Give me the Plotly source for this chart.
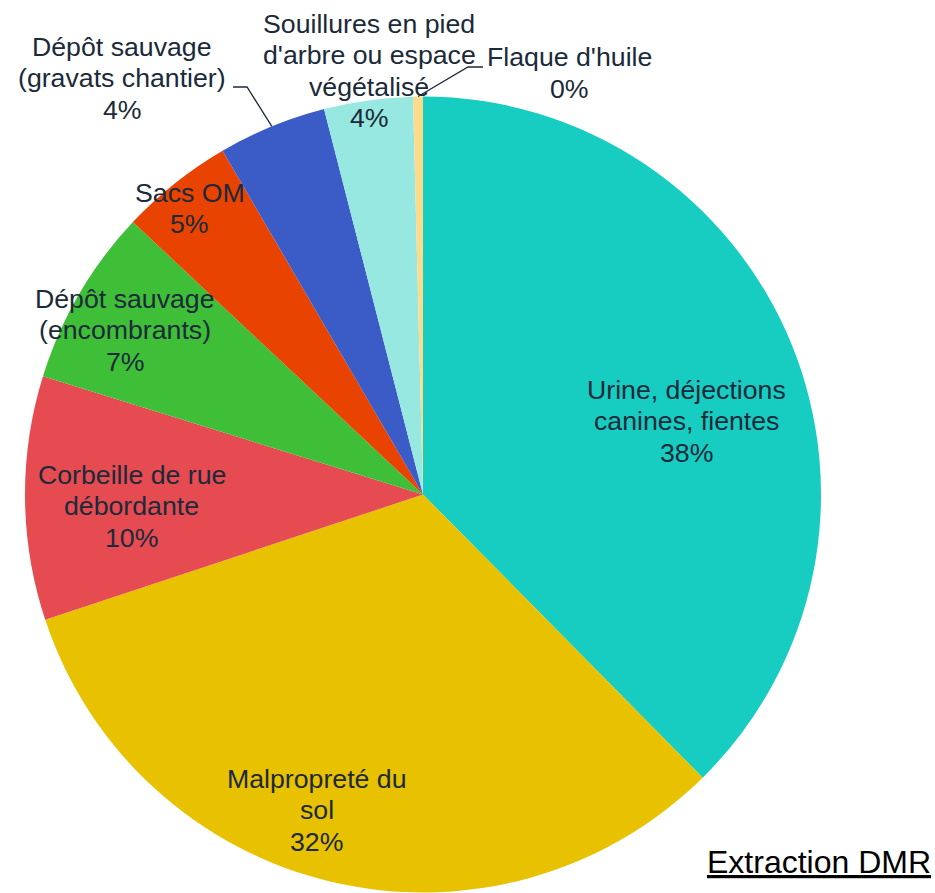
import math
import plotly.graph_objects as go

# ---- data ----
labels = [
    "Urine, déjections<br>canines, fientes",
    "Malpropreté du<br>sol",
    "Corbeille de rue<br>débordante",
    "Dépôt sauvage<br>(encombrants)",
    "Sacs OM",
    "Dépôt sauvage<br>(gravats chantier)",
    "Souillures en pied<br>d'arbre ou espace<br>végétalisé",
    "Flaque d'huile",
]
values = [37.6, 32.3, 9.9, 7.2, 4.6, 4.4, 3.6, 0.4]
source_note = "Extraction DMR"

# ---- styles / layout ----
colors = ["#17CCC0", "#E8C100", "#E54B51", "#3FBE37", "#E84300", "#3B5BC6", "#97E8E0", "#FCDB8D"]
# label placement relative to slice bisector: (radius fraction, angular nudge in degrees)
label_r = [0.688, 0.836, 0.732, 0.855, 0.928, 1.291, 1.074, 1.122]
label_dang = [6.7, 5.1, -1.7, -1.3, -0.6, -13.5, 0.7, 19.9]
# leader lines: (text-side end, elbow) in page pixels, for slices that need one
leaders = {5: [(233, 87), (247, 87)], 7: [(483, 67), (468, 67)]}

W, H = 935, 893
FONT = "Liberation Sans, Arial, sans-serif"
TXT = "#1B2A3A"
FS = 26.7
LINE_H = 31.6
DY = 0.5  # visual centring of text lines

# pie geometry in page pixels
CX, CY, R = 423, 494.5, 398
dom_x = [(CX - R) / W, (CX + R) / W]
dom_y = [max(0, 1 - (CY + R) / H), 1 - (CY - R) / H]

fig = go.Figure(go.Pie(
    labels=labels,
    values=values,
    sort=False,
    direction="clockwise",
    rotation=0,
    marker=dict(colors=colors, line=dict(width=0)),
    textinfo="none",
    domain=dict(x=dom_x, y=dom_y),
    showlegend=False,
    hoverinfo="label+percent",
))

total = sum(values)
annotations = []
shapes = []
cum = 0.0
for i, (lab, v) in enumerate(zip(labels, values)):
    mid = (cum + v / 2) / total * 360
    cum += v
    pct = f"{round(v / total * 100)}%"
    ang = math.radians(mid + label_dang[i])
    lx = CX + R * label_r[i] * math.sin(ang)
    ly = CY - R * label_r[i] * math.cos(ang)
    lines = lab.split("<br>") + [pct]
    n = len(lines)
    for k, t in enumerate(lines):
        annotations.append(dict(
            x=lx, y=ly + (k - (n - 1) / 2) * LINE_H + DY, xref="x", yref="y",
            text=t, showarrow=False, xanchor="center", yanchor="middle",
            font=dict(family=FONT, size=FS, color=TXT),
        ))
    if i in leaders:
        (x0, y0), (x1, y1) = leaders[i]
        ex = CX + R * math.sin(math.radians(mid))
        ey = CY - R * math.cos(math.radians(mid))
        shapes.append(dict(
            type="path", xref="x", yref="y",
            path=f"M {x0} {y0} L {x1} {y1} L {ex:.1f} {ey:.1f}",
            line=dict(color=TXT, width=1.3),
        ))

annotations.append(dict(
    text=f"<u>{source_note}</u>", x=818.5, y=862, xref="x", yref="y",
    xanchor="center", yanchor="middle", showarrow=False,
    font=dict(family=FONT, size=32, color="black"),
))

fig.update_layout(
    width=W, height=H,
    margin=dict(l=0, r=0, t=0, b=0),
    paper_bgcolor="white",
    plot_bgcolor="rgba(0,0,0,0)",
    xaxis=dict(range=[0, W], visible=False, fixedrange=True, domain=[0, 1]),
    yaxis=dict(range=[H, 0], visible=False, fixedrange=True, domain=[0, 1]),
    annotations=annotations,
    shapes=shapes,
)
fig.write_html(
    "out.html",
    config={"displayModeBar": False},
    post_script="document.body.style.margin='0';document.body.style.overflow='hidden';",
)
